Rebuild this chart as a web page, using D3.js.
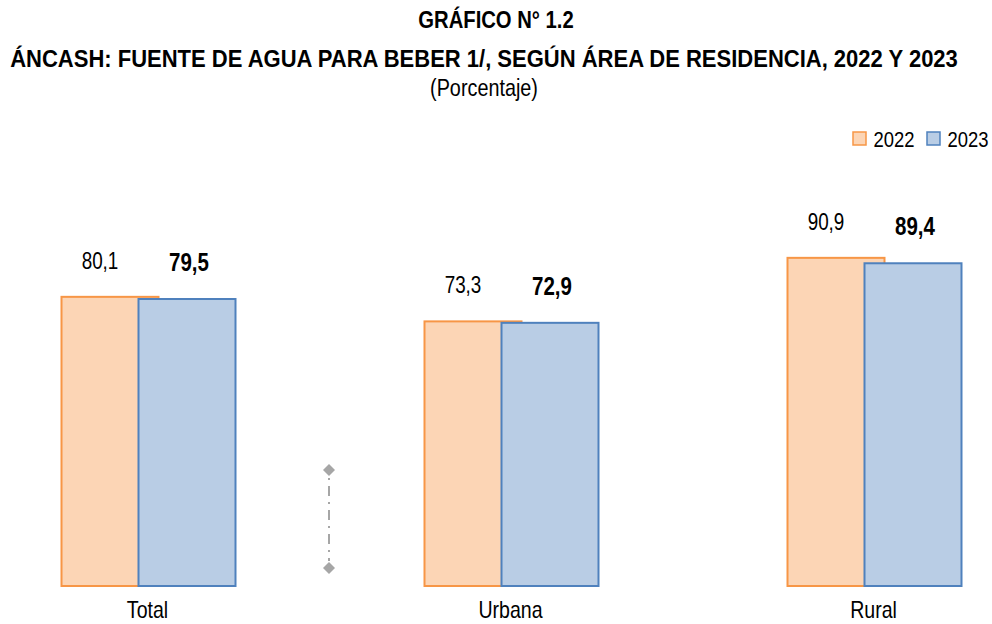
<!DOCTYPE html>
<html>
<head>
<meta charset="utf-8">
<script src="https://cdn.jsdelivr.net/npm/d3@7"></script>
<style>
  body { margin: 0; background: #fff; }
  svg { display: block; font-family: "Liberation Sans", Arial, sans-serif; }
</style>
</head>
<body>
<div id="chart"></div>
<script>
// chart data
const categories = ["Total", "Urbana", "Rural"];
const years = ["2022", "2023"];
const values2022 = [80.1, 73.3, 90.9];
const values2023 = [79.5, 72.9, 89.4];

const titleLines = [
  "GRÁFICO N° 1.2",
  "ÁNCASH: FUENTE DE AGUA PARA BEBER 1/, SEGÚN ÁREA DE RESIDENCIA, 2022 Y 2023",
  "(Porcentaje)"
];

const fills = ["#fcd5b5", "#b9cde5"];
const strokes = ["#f79646", "#4f81bd"];

const W = 992, H = 624;
const narrow = 0.82; // no Arial Narrow installed, so squeeze Liberation Sans

const svg = d3.select("#chart").append("svg")
  .attr("width", W)
  .attr("height", H);

// adds a horizontally squeezed text anchored at (x, y)
function addText(parent, x, y, str, size, weight, sx) {
  return parent.append("text")
    .attr("transform", "translate(" + x + "," + y + ") scale(" + (sx || narrow) + ",1)")
    .attr("text-anchor", "middle")
    .style("font-size", size + "px")
    .style("font-weight", weight || "normal")
    .text(str);
}

// titles: squeeze so that the long line spans the same width as the original
const t2 = addText(svg, 484, 67, titleLines[1], 24, "bold", 1);
const titleScale = 948 / t2.node().getComputedTextLength();
t2.attr("transform", "translate(484,67) scale(" + titleScale + ",1)");
addText(svg, 496, 28, titleLines[0], 24, "bold", titleScale * 0.92);
addText(svg, 484, 96, titleLines[2], 24, "normal", titleScale * 0.9);

// scales
const x = d3.scaleBand()
  .domain(categories)
  .range([-33, 1056]);
const y = d3.scaleLinear()
  .domain([0, 100])
  .range([586, 225]);

const barW = 97;
const offsets = [-87, -10]; // 2023 bar overlaps 2022 bar

const series = [values2022, values2023];

series.forEach((vals, s) => {
  const g = svg.append("g");
  g.selectAll("rect")
    .data(categories)
    .enter().append("rect")
      .attr("x", d => x(d) + x.bandwidth() / 2 + offsets[s])
      .attr("y", (d, i) => y(vals[i]))
      .attr("width", barW)
      .attr("height", (d, i) => y(0) - y(vals[i]))
      .style("fill", fills[s])
      .style("stroke", strokes[s])
      .style("stroke-width", 2);

  categories.forEach((c, i) => {
    addText(g,
      x(c) + x.bandwidth() / 2 + offsets[s] + barW / 2 + (s === 0 ? -10 : 2),
      y(vals[i]) - 28,
      d3.format(".1f")(vals[i]).replace(".", ","),
      s === 1 ? 25 : 23, s === 1 ? "bold" : "normal");
  });
});

// category axis labels
const axisG = svg.append("g");
categories.forEach(c => {
  addText(axisG, x(c) + x.bandwidth() / 2 - 1, 618, c, 23, "normal", 0.85);
});

// separator (dash-dot with diamond ends)
const sepX = 329;
svg.append("line")
  .attr("x1", sepX).attr("x2", sepX)
  .attr("y1", 478).attr("y2", 561)
  .style("stroke", "#a6a6a6")
  .style("stroke-width", 2)
  .style("stroke-dasharray", "2,6,10,6");
[470, 568].forEach(cy => {
  svg.append("path")
    .attr("d", d3.symbol(d3.symbolSquare, 72)())
    .attr("transform", "translate(" + sepX + "," + cy + ") rotate(45)")
    .style("fill", "#a6a6a6");
});

// legend
const legend = svg.append("g");
const legendX = [853, 927];
years.forEach((yr, i) => {
  legend.append("rect")
    .attr("x", legendX[i]).attr("y", 132)
    .attr("width", 13).attr("height", 13)
    .style("fill", fills[i])
    .style("stroke", strokes[i])
    .style("stroke-width", 1.5);
  addText(legend, legendX[i] + 41, 147, yr, 22.5);
});
</script>
</body>
</html>
